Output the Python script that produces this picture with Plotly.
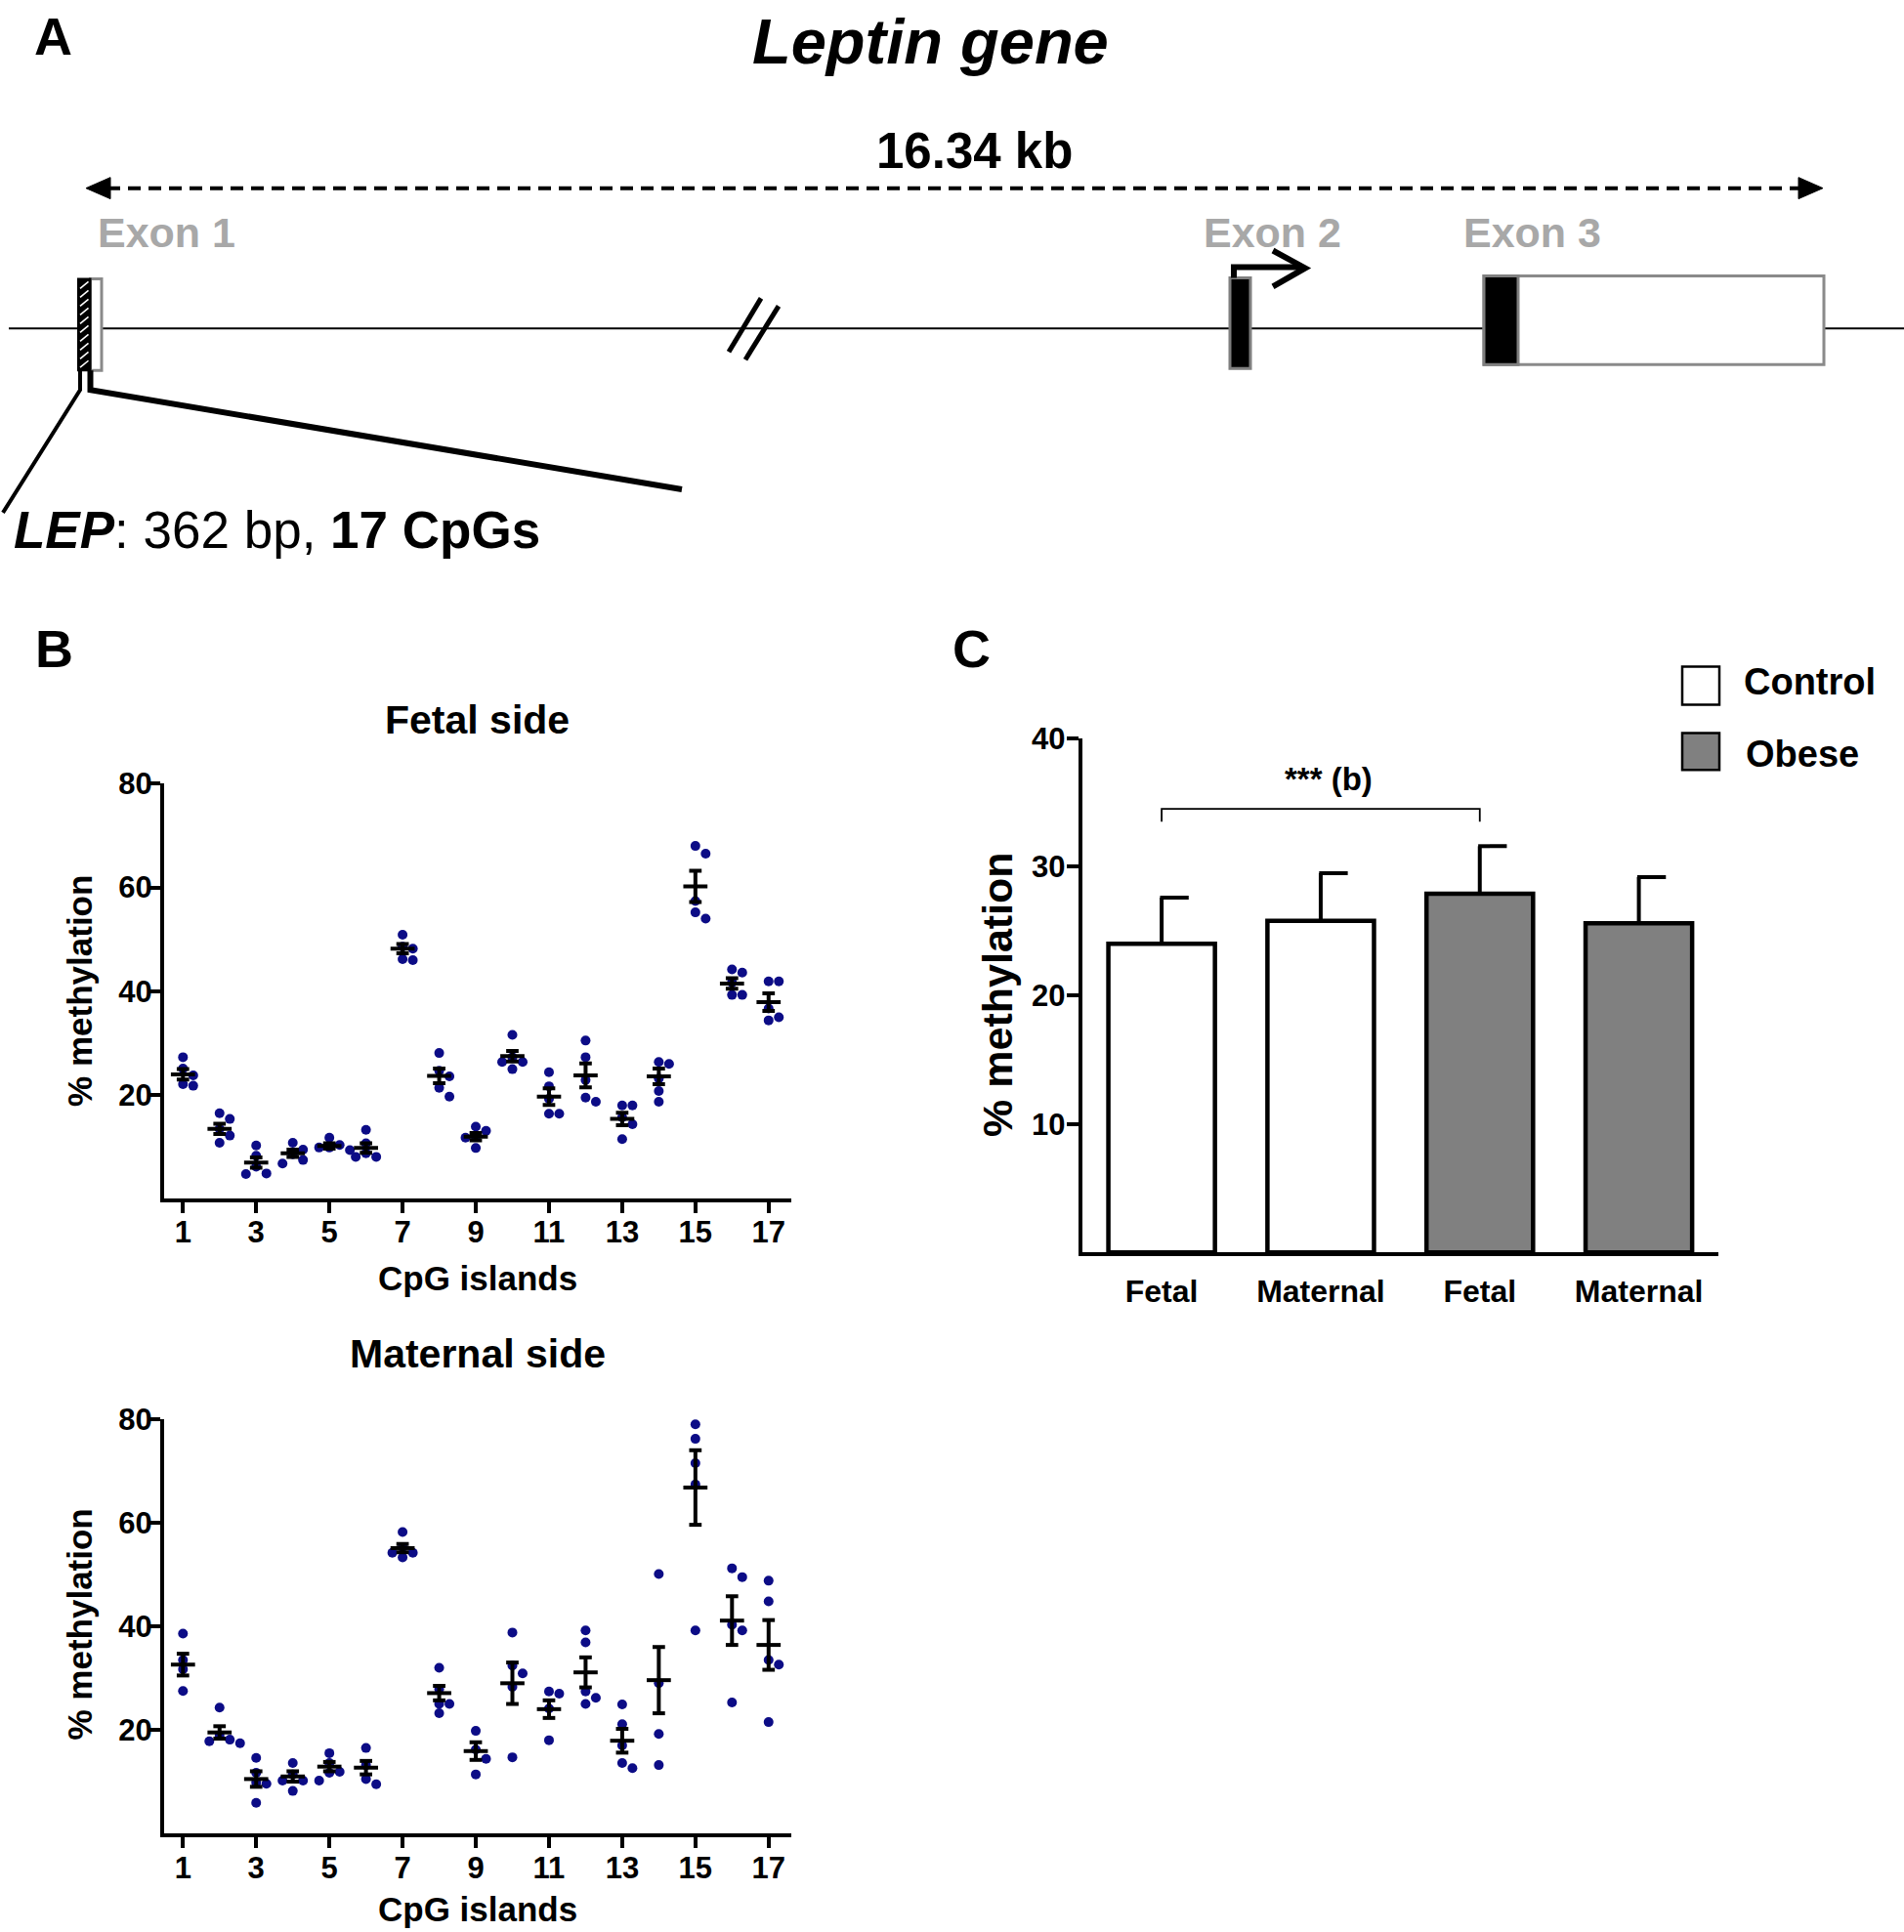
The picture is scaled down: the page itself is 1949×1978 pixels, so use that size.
import plotly.graph_objects as go

W, H = 1949, 1978
FONT = "Liberation Sans, Arial, Helvetica, sans-serif"

# ---------------- data ----------------
cpg_sites = list(range(1, 18))
cpg_tick_labels = ["1", "3", "5", "7", "9", "11", "13", "15", "17"]

fetal_points = [
    [27.3, 25.1, 23.8, 22.1, 21.8],
    [16.5, 15.4, 13.5, 12.2, 10.8],
    [10.3, 8.3, 6.2, 4.9, 4.8],
    [10.8, 9.5, 8.6, 7.5, 6.8],
    [11.8, 10.4, 9.9, 9.9, 9.4],
    [13.3, 10.7, 8.8, 8.1, 8.1],
    [50.9, 48.6, 48.2, 46.2, 46.0],
    [28.1, 24.7, 23.6, 21.4, 19.7],
    [13.9, 13.1, 12.0, 11.8, 9.8],
    [31.6, 27.3, 26.4, 26.4, 25.0],
    [24.4, 21.7, 19.3, 16.4, 16.4],
    [30.5, 27.3, 22.9, 19.5, 18.7],
    [18.0, 18.0, 15.7, 14.4, 11.5],
    [26.4, 26.0, 23.2, 20.8, 18.7],
    [68.0, 66.5, 57.4, 55.2, 54.0],
    [44.2, 43.6, 41.7, 39.3, 39.3],
    [41.9, 41.9, 36.7, 35.0, 34.4],
]
fetal_mean = [24.0, 13.5, 7.0, 8.8, 10.2, 9.8, 48.2, 23.7, 12.0, 27.5,
              19.7, 23.8, 15.4, 23.6, 60.2, 41.5, 37.9]
fetal_sem = [1.0, 1.0, 1.0, 0.7, 0.5, 0.9, 0.9, 1.4, 0.7, 1.0,
             1.6, 2.3, 1.2, 1.5, 3.0, 1.0, 1.7]

maternal_points = [
    [38.6, 33.5, 31.7, 27.5],
    [24.3, 18.9, 18.1, 17.8, 17.4],
    [14.6, 11.7, 9.8, 9.6, 5.9],
    [13.6, 11.4, 10.2, 10.2, 8.2],
    [15.5, 13.6, 11.9, 11.7, 10.2],
    [16.5, 13.2, 10.5, 9.5],
    [58.2, 55.3, 54.2, 54.2, 53.3],
    [32.0, 27.9, 25.0, 25.0, 23.2],
    [19.8, 16.2, 14.4, 11.4],
    [38.8, 32.4, 30.9, 28.3, 14.7],
    [27.4, 27.0, 24.1, 18.0],
    [39.2, 36.9, 27.4, 26.2, 25.0],
    [24.9, 21.1, 17.0, 13.6, 12.6],
    [50.1, 29.0, 19.2, 13.2],
    [79.0, 76.2, 71.5, 67.4, 39.2],
    [51.2, 49.5, 40.3, 39.2, 25.3],
    [48.8, 44.8, 33.5, 32.6, 21.5],
]
maternal_mean = [32.6, 19.5, 10.5, 11.0, 12.9, 12.7, 55.1, 27.1, 15.9, 29.0,
                 24.0, 31.1, 17.9, 29.6, 66.8, 41.1, 36.4]
maternal_sem = [2.1, 1.2, 1.5, 1.0, 0.9, 1.3, 0.8, 1.4, 1.7, 4.0,
                1.7, 2.9, 2.3, 6.4, 7.2, 4.7, 4.8]

bar_groups = ["Fetal", "Maternal", "Fetal", "Maternal"]
bar_condition = ["Control", "Control", "Obese", "Obese"]
bar_mean = [24.0, 25.8, 27.9, 25.6]
bar_sem = [3.6, 3.7, 3.7, 3.6]
bar_ticks = [10, 20, 30, 40]
b_yticks = [20, 40, 60, 80]

# ---------------- helpers ----------------
def px(x):
    return x / W

def py(y):
    yy = (y - 13) / 0.9935
    return 1 - yy / H

DOT = "#0c0c86"
GRAY_TXT = "#a8a8a8"
GRAY_LINE = "#7f7f7f"
FILL = {"Control": "white", "Obese": "#808080"}


def swarm(vals, ytol, step):
    placed, offs = [], []
    cands = [0, step, -step, 2 * step, -2 * step, 3 * step, -3 * step]
    for v in vals:
        chosen = cands[-1]
        for c in cands:
            if all(not (abs(c - po) < step * 0.9 and abs(v - pv) < ytol) for po, pv in placed):
                chosen = c
                break
        placed.append((chosen, v))
        offs.append(chosen)
    return offs


fig = go.Figure()


def add_dotplot(points, means, sems, xa, ya):
    xs, ys = [], []
    for site, vals in zip(cpg_sites, points):
        offs = swarm(vals, 1.8, 0.28)
        for o, v in zip(offs, vals):
            xs.append(site + o)
            ys.append(v)
    fig.add_trace(go.Scatter(x=xs, y=ys, mode="markers", xaxis=xa, yaxis=ya,
                             marker=dict(size=10, color=DOT, line=dict(width=0)),
                             hoverinfo="skip"))
    lx, ly = [], []
    for site, m, s in zip(cpg_sites, means, sems):
        lx += [site - 0.33, site + 0.33, None]
        ly += [m, m, None]
        lx += [site, site, None]
        ly += [m - s, m + s, None]
        for e in (m - s, m + s):
            lx += [site - 0.17, site + 0.17, None]
            ly += [e, e, None]
    fig.add_trace(go.Scatter(x=lx, y=ly, mode="lines", xaxis=xa, yaxis=ya,
                             line=dict(color="black", width=4),
                             hoverinfo="skip"))


add_dotplot(fetal_points, fetal_mean, fetal_sem, "x", "y")
add_dotplot(maternal_points, maternal_mean, maternal_sem, "x2", "y2")

# Panel C bars
bar_x = list(range(len(bar_mean)))
fig.add_trace(go.Bar(x=bar_x, y=bar_mean, width=0.67, xaxis="x3", yaxis="y3",
                     marker=dict(color=[FILL[c] for c in bar_condition],
                                 line=dict(color="black", width=4.5)),
                     hoverinfo="skip"))
ex, ey = [], []
for i, (m, s) in enumerate(zip(bar_mean, bar_sem)):
    ex += [i, i, None, i - 0.01, i + 0.17, None]
    ey += [m, m + s, None, m + s, m + s, None]
fig.add_trace(go.Scatter(x=ex, y=ey, mode="lines", xaxis="x3", yaxis="y3",
                         line=dict(color="black", width=4), hoverinfo="skip"))
# significance bracket (Fetal control vs Fetal obese)
fig.add_trace(go.Scatter(x=[0, 0, 2, 2], y=[33.5, 34.5, 34.5, 33.5], mode="lines",
                         xaxis="x3", yaxis="y3", line=dict(color="black", width=1.8),
                         hoverinfo="skip"))

# ---------------- axes ----------------
axis_common = dict(showline=True, linecolor="black", linewidth=4, ticks="outside",
                   ticklen=11, tickwidth=4, tickcolor="black", showgrid=False,
                   zeroline=False, mirror=False, fixedrange=True)
bfont = dict(family=FONT, size=31, color="black", weight="bold")
cxfont = dict(family=FONT, size=32, color="black", weight="bold")
cyfont = dict(family=FONT, size=31, color="black", weight="bold")

fig.update_layout(
    width=W, height=H, margin=dict(l=0, r=0, t=0, b=0),
    paper_bgcolor="white", plot_bgcolor="rgba(0,0,0,0)", showlegend=False,
    xaxis=dict(axis_common, domain=[px(168), px(810)], range=[0.485, 17.62],
               tickvals=[int(t) for t in cpg_tick_labels], ticktext=cpg_tick_labels,
               tickfont=bfont, ticklabelstandoff=-8, anchor="y"),
    yaxis=dict(axis_common, domain=[py(1226), py(800)], range=[0, 80],
               tickvals=b_yticks, tickfont=bfont, ticklabelstandoff=-9, anchor="x"),
    xaxis2=dict(axis_common, domain=[px(168), px(810)], range=[0.485, 17.62],
                tickvals=[int(t) for t in cpg_tick_labels], ticktext=cpg_tick_labels,
                tickfont=bfont, ticklabelstandoff=-6, anchor="y2"),
    yaxis2=dict(axis_common, domain=[py(1877), py(1452)], range=[0, 80],
                tickvals=b_yticks, tickfont=bfont, ticklabelstandoff=-9, anchor="x2"),
    xaxis3=dict(axis_common, domain=[px(1107.7), px(1759)], range=[-0.5, 3.5],
                tickvals=bar_x, ticktext=bar_groups, tickfont=cxfont, ticklen=8,
                tickcolor="rgba(0,0,0,0)", anchor="y3"),
    yaxis3=dict(axis_common, domain=[py(1281), py(753.3)], range=[0, 40],
                tickvals=bar_ticks, tickfont=cyfont, ticklen=12,
                ticklabelstandoff=-5, anchor="x3"),
)

# ---------------- panel A diagram (shapes) ----------------
shapes = []


def line(x0, y0, x1, y1, w=2, color="black", dash="solid"):
    shapes.append(dict(type="line", xref="paper", yref="paper", x0=px(x0), y0=py(y0),
                       x1=px(x1), y1=py(y1), line=dict(color=color, width=w, dash=dash)))


def path(pts, w=2, color="black", fill=None, close=False):
    d = "M " + " L ".join(f"{px(a):.5f},{py(b):.5f}" for a, b in pts) + (" Z" if close else "")
    s = dict(type="path", xref="paper", yref="paper", path=d,
             line=dict(color=color, width=w))
    if fill:
        s["fillcolor"] = fill
    shapes.append(s)


def rect(x0, y0, x1, y1, fill, lcolor, w):
    shapes.append(dict(type="rect", xref="paper", yref="paper", x0=px(x0), y0=py(y0),
                       x1=px(x1), y1=py(y1), fillcolor=fill,
                       line=dict(color=lcolor, width=w)))


# gene backbone
line(9, 333, 1949, 333, w=2)
# 16.34 kb dashed double arrow
line(110, 189, 1845, 189, w=4, dash="13px,8px")
path([(88, 189), (113, 178), (113, 200)], w=1, fill="black", close=True)
path([(1866, 189), (1841, 178), (1841, 200)], w=1, fill="black", close=True)
# break marks
line(746, 357, 779, 302, w=5)
line(763, 365, 797, 310, w=5)
# exon 1 (hatched + outline)
rect(92.5, 282, 104, 376, "white", "#8a8a8a", 3)
rect(80, 282, 92.5, 376, "black", "black", 2)
for yy in range(292, 378, 9):
    line(82, yy, 90.5, yy - 7, w=1.6, color="white")
# exon 2
rect(1259, 281, 1280, 374, "black", GRAY_LINE, 3)
path([(1263, 281), (1263, 270), (1334, 270)], w=6)
path([(1303, 253), (1336, 271), (1303, 290)], w=6)
# exon 3
rect(1519, 279, 1867, 370, "white", "#8a8a8a", 3)
rect(1519, 279, 1554, 370, "black", GRAY_LINE, 3)
# zoom lines to LEP amplicon
path([(82, 376), (82, 396), (3, 522)], w=4)
path([(92.5, 376), (92.5, 396), (698, 498)], w=6)

# legend squares (panel C)
rect(1722, 680, 1760, 719, FILL["Control"], "black", 2.5)
rect(1722, 748, 1760, 786, FILL["Obese"], "black", 2.5)

fig.update_layout(shapes=shapes)

# ---------------- text ----------------
ann = []


def text(t, x, y, size, color="black", xanchor="center", angle=0, family=FONT):
    ann.append(dict(text=t, x=px(x), y=py(y), xref="paper", yref="paper",
                    xanchor=xanchor, yanchor="middle", showarrow=False,
                    textangle=angle, font=dict(family=family, size=size, color=color)))


text("<b>A</b>", 54, 33, 54)
text("<b>B</b>", 55, 661, 54)
text("<b>C</b>", 995, 661, 54)
text("<b><i>Leptin gene</i></b>", 952, 39, 65)
text("<b>16.34 kb</b>", 997, 151, 51)
text("<b>Exon 1</b>", 170, 234, 43, color=GRAY_TXT)
text("<b>Exon 2</b>", 1302, 234, 43, color=GRAY_TXT)
text("<b>Exon 3</b>", 1568, 234, 43, color=GRAY_TXT)
text("<b><i>LEP</i></b>: 362 bp, <b>17 CpGs</b>", 12, 540, 53, xanchor="left")

text("<b>Fetal side</b>", 489, 735, 41)
text("<b>Maternal side</b>", 489, 1385, 41)
text("<b>CpG islands</b>", 489, 1307, 35)
text("<b>CpG islands</b>", 489, 1955, 35)
text("<b>% methylation</b>", 82, 1013, 35, angle=-90)
text("<b>% methylation</b>", 82, 1663, 35, angle=-90)

text("<b>% methylation</b>", 1021, 1016, 43, angle=-90)
text("<b>*** (b)</b>", 1360, 795, 33)
text("<b>Control</b>", 1783, 695, 38, xanchor="left")
text("<b>Obese</b>", 1785, 770, 38, xanchor="left")

fig.update_layout(annotations=ann)

fig.write_html(
    "out.html",
    config={"displayModeBar": False},
    post_script=(
        "var gd=document.getElementById('{plot_id}');"
        "var de=document.documentElement;"
        "de.style.margin='0';de.style.padding='0';de.style.overflow='hidden';"
        "document.body.style.margin='0';document.body.style.padding='0';"
        "document.body.style.overflow='hidden';"
        "gd.style.position='absolute';gd.style.left='0px';gd.style.top='0px';"
    ),
)
